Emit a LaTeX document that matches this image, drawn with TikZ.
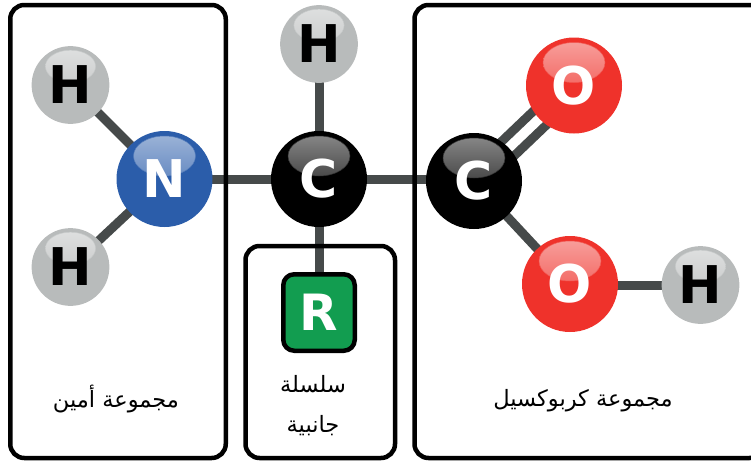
\documentclass[tikz,border=0pt]{standalone}
\usepackage{fontspec}
\newfontfamily\atomfont{DejaVu Sans}
\newfontfamily\arabicfont[Script=Arabic]{DejaVu Sans}
\TeXXeTstate=1
\usepackage{tikz}
\usetikzlibrary{positioning,backgrounds}

\definecolor{bondgray}{HTML}{464A4A}
\definecolor{hgray}{HTML}{B8BBBB}
\definecolor{nblue}{HTML}{2B5DAA}
\definecolor{ored}{HTML}{EF322B}
\definecolor{rgreen}{HTML}{129D50}

\begin{document}
\begin{tikzpicture}[
    x=1pt, y=-1pt,
    atom/.style 2 args={circle, inner sep=0pt, fill=#1, minimum size={96pt*#2}, font=\atomfont\bfseries\fontsize{52}{52}\selectfont, text=white,
        path picture={\shade[top color=#1!45!white, bottom color=#1, draw=#1!80!white, line width=0.5pt] ([yshift={23pt*#2}]path picture bounding box.center) ellipse ({31pt*#2} and {20pt*#2});}},
    heavyatom/.style={atom={#1}{1}},
    hatom/.style={atom={hgray}{0.81}, text=black},
    groupbox/.style={rectangle, draw, line width=4.5pt, rounded corners=14pt, inner sep=0pt},
    rbox/.style={rectangle, draw, line width=4.5pt, rounded corners=11pt, fill=rgreen, minimum width=71.5pt, minimum height=76.5pt, inner sep=0pt, text=white, font=\atomfont\bfseries\fontsize{50}{50}\selectfont},
    bond/.style={line width=9pt, bondgray},
    grouplabel/.style={font=\arabicfont\fontsize{22.5}{40}\selectfont, align=center}
]
    \useasboundingbox (0,0) rectangle (751,463);

    % Group boxes
    \node[groupbox, minimum width=215.5pt, minimum height=453pt] (aminebox) at (118,231.5) {};
    \node[groupbox, minimum width=149.5pt, minimum height=212pt] (sidebox) at (320.25,352) {};
    \node[groupbox, minimum width=349pt, minimum height=453pt] (carboxylbox) at (589,231.5) {};

    % Atoms
    \node[hatom] (hone) at (70.5,85) {H};
    \node[hatom] (htwo) at (70.5,267) {H};
    \node[heavyatom=nblue] (nitrogen) at (164.5,179) {N};
    \node[heavyatom=black] (calpha) at (319,179) {C};
    \node[hatom] (htop) at (319,44) {H};
    \node[rbox] (rgroup) at (319,312.5) {R};
    \node[heavyatom=black] (ccarboxyl) at (474,181) {C};
    \node[heavyatom=ored] (odouble) at (574,85.5) {O};
    \node[heavyatom=ored] (osingle) at (570,284) {O};
    \node[hatom] (hthree) at (700.5,285) {H};

    % Bonds
    \begin{scope}[on background layer]
        \draw[bond] (hone.center) -- (nitrogen.center);
        \draw[bond] (htwo.center) -- (nitrogen.center);
        \draw[bond] (nitrogen.center) -- (calpha.center);
        \draw[bond] (calpha.center) -- (htop.center);
        \draw[bond] (calpha.center) -- (rgroup.center);
        \draw[bond] (calpha.center) -- (calpha.center -| ccarboxyl.center);
        \draw[bond, transform canvas={shift={(-7pt,6.5pt)}}] (ccarboxyl.center) -- (odouble.center);
        \draw[bond, transform canvas={shift={(7pt,-6.5pt)}}] (ccarboxyl.center) -- (odouble.center);
        \draw[bond] (ccarboxyl.center) -- (osingle.center);
        \draw[bond] (hthree.center) -- (hthree.center -| osingle.center);
    \end{scope}

    % Labels
    \node[grouplabel] (aminelabel) at (116,399) {\beginR مجموعة أمين\endR};
    \node[grouplabel] (sidelabel) at (313,406) {\beginR سلسلة\endR\\\beginR جانبية\endR};
    \node[grouplabel] (carboxyllabel) at (583,401) {\beginR مجموعة كربوكسيل\endR};
\end{tikzpicture}
\end{document}
